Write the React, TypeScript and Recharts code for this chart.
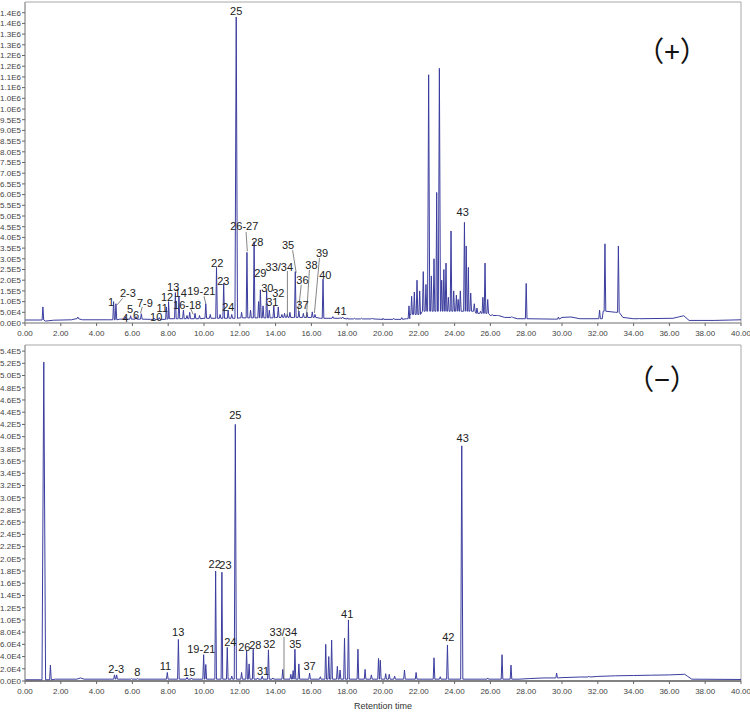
import React from 'react';
import { LineChart, Line, XAxis, YAxis, ReferenceArea, ReferenceDot, ReferenceLine } from 'recharts';

type Pt = [number, number];
type Pk = [number, number, number?];

// ---------- shared axis ----------
const xTicks = [0, 2, 4, 6, 8, 10, 12, 14, 16, 18, 20, 22, 24, 26, 28, 30, 32, 34, 36, 38, 40];

// ---------- (+) mode ----------
const posYTicks = [0, 5e4, 1e5, 1.5e5, 2e5, 2.5e5, 3e5, 3.5e5, 4e5, 4.5e5, 5e5, 5.5e5, 6e5, 6.5e5, 7e5, 7.5e5, 8e5, 8.5e5, 9e5, 9.5e5, 1e6, 1.05e6, 1.1e6, 1.15e6, 1.2e6, 1.25e6, 1.3e6, 1.35e6, 1.4e6, 1.45e6];
const posYLabels = ['0.0E0', '5.0E4', '1.0E5', '1.5E5', '2.0E5', '2.5E5', '3.0E5', '3.5E5', '4.0E5', '4.5E5', '5.0E5', '5.5E5', '6.0E5', '6.5E5', '7.0E5', '7.5E5', '8.0E5', '8.5E5', '9.0E5', '9.5E5', '1.0E6', '1.0E6', '1.1E6', '1.1E6', '1.2E6', '1.2E6', '1.3E6', '1.3E6', '1.4E6', '1.4E6'];

const posBaseline: Pt[] = [
  [0, 1.4e4], [0.9, 1.4e4], [1.15, 0.9e4], [1.6, 1.3e4], [2.6, 1.5e4], [2.85, 2.0e4], [3.2, 1.5e4],
  [4.6, 1.5e4], [5.3, 1.8e4], [7.0, 1.7e4], [8.0, 2.0e4], [10.0, 2.2e4], [12.0, 2.4e4], [14.0, 2.6e4],
  [15.0, 2.6e4], [16.5, 2.2e4], [18.0, 1.9e4], [20.0, 1.7e4], [21.3, 2.0e4], [21.5, 4.0e4], [22.2, 5.5e4],
  [24.8, 5.5e4], [25.2, 4.5e4], [26.0, 3.5e4], [26.8, 2.6e4], [27.5, 2.0e4], [29.6, 1.8e4], [30.0, 2.6e4],
  [30.5, 2.8e4], [31.0, 2.0e4], [32.25, 2.0e4], [32.3, 5.5e4], [33.0, 5.0e4], [33.4, 2.6e4], [34.0, 2.0e4],
  [36.2, 2.2e4], [36.5, 2.8e4], [36.8, 3.4e4], [37.1, 1.2e4], [38.5, 1.2e4], [40, 1.5e4],
];

const posPeaks: Pk[] = [
  [1.0, 7.5e4], [2.95, 2.8e4], [4.95, 1.0e5], [5.08, 9.0e4], [5.6, 3.0e4], [5.9, 3.4e4], [6.2, 3.0e4],
  [6.5, 4.3e4], [7.2, 2.3e4], [7.5, 2.5e4], [7.9, 7.5e4], [8.02, 1.0e5], [8.4, 1.42e5], [8.6, 1.25e5],
  [8.85, 6.0e4], [9.05, 3.5e4], [9.2, 5.0e4], [9.5, 4.5e4], [9.75, 3.5e4], [10.1, 9.0e4], [10.35, 4.0e4],
  [10.7, 2.6e5], [10.9, 4.0e4], [11.1, 1.85e5], [11.35, 6.0e4], [11.55, 4.0e4], [11.8, 1.43e6, 0.07],
  [12.1, 5.0e4], [12.4, 3.3e5], [12.6, 6.0e4], [12.8, 3.8e5], [13.05, 1.0e5], [13.15, 1.55e5], [13.3, 8.0e4],
  [13.5, 1.5e5], [13.65, 6.0e4], [13.9, 8.0e4], [14.15, 7.5e4], [14.35, 4.0e4], [14.5, 4.5e4], [14.65, 4.0e4],
  [14.8, 5.0e4], [15.1, 2.4e5], [15.3, 5.6e4], [15.55, 4.5e4], [15.75, 5.0e4], [16.05, 5.2e4], [16.2, 4.0e4],
  [16.65, 2.05e5], [17.2, 3.0e4], [17.6, 2.5e4], [17.75, 2.8e4], [18.0, 2.4e4], [18.4, 2.2e4], [18.8, 2.2e4],
  [19.4, 2.3e4], [20.0, 2.2e4], [20.6, 2.2e4], [21.05, 2.5e4],
  [21.45, 8.0e4], [21.6, 1.25e5], [21.75, 1.45e5], [21.9, 2.0e5], [22.05, 1.5e5], [22.25, 2.4e5], [22.4, 1.8e5],
  [22.55, 1.16e6, 0.06], [22.7, 2.2e5], [22.85, 3.0e5], [23.0, 6.1e5], [23.15, 1.19e6, 0.06], [23.28, 2.0e5],
  [23.4, 2.5e5], [23.52, 2.8e5], [23.65, 1.2e5], [23.8, 4.3e5], [23.95, 1.5e5], [24.1, 1.3e5], [24.2, 1.1e5],
  [24.32, 1.5e5], [24.55, 4.7e5], [24.65, 3.6e5], [24.77, 2.6e5], [24.9, 1.4e5], [25.1, 9.0e4], [25.25, 7.0e4],
  [25.45, 5.5e4], [25.58, 1.2e5], [25.7, 2.8e5], [25.85, 1.1e5], [26.1, 4.0e4], [26.4, 3.5e4], [27.2, 3.0e4],
  [28.0, 1.85e5], [29.8, 2.8e4], [32.1, 6.0e4], [32.4, 3.7e5], [33.15, 3.6e5], [34.3, 2.2e4],
];

const posLabels: [string, number, number][] = [
  ['1', 4.81, 9.8e4], ['2-3', 5.75, 1.4e5], ['4', 5.6, 2.3e4], ['5', 5.87, 6.5e4], ['6', 6.2, 3.7e4],
  ['7-9', 6.7, 9.3e4], ['10', 7.33, 2.8e4], ['11', 7.66, 7.0e4], ['12', 7.94, 1.21e5], ['13', 8.28, 1.66e5],
  ['14', 8.7, 1.4e5], ['16-18', 9.06, 8.4e4], ['19-21', 9.85, 1.5e5], ['22', 10.74, 2.8e5], ['23', 11.08, 1.96e5],
  ['24', 11.36, 7.5e4], ['25', 11.8, 1.458e6], ['26-27', 12.25, 4.53e5], ['28', 12.98, 3.8e5], ['29', 13.15, 2.34e5],
  ['30', 13.54, 1.64e5], ['31', 13.82, 9.8e4], ['32', 14.15, 1.4e5], ['33/34', 14.21, 2.62e5], ['35', 14.7, 3.65e5],
  ['36', 15.5, 2.0e5], ['37', 15.5, 8.4e4], ['38', 16.0, 2.71e5], ['39', 16.6, 3.27e5], ['40', 16.78, 2.24e5],
  ['41', 17.62, 5.6e4], ['43', 24.45, 5.19e5],
];

const posLeaders: [number, number, number, number][] = [
  [5.45, 1.15e5, 5.15, 8.5e4], [6.55, 7.5e4, 6.45, 4.5e4], [9.25, 6.8e4, 9.4, 4.0e4], [10.0, 1.25e5, 10.1, 9.0e4],
  [12.35, 4.25e5, 12.42, 3.35e5], [14.66, 2.43e5, 14.66, 3.3e4], [14.95, 3.4e5, 15.15, 2.35e5],
  [15.43, 1.78e5, 15.27, 5.1e4], [15.89, 2.48e5, 15.72, 2.3e4], [16.45, 3.04e5, 16.17, 4.7e4],
];

// ---------- (−) mode ----------
const negYTicks = [0, 2e4, 4e4, 6e4, 8e4, 1e5, 1.2e5, 1.4e5, 1.6e5, 1.8e5, 2e5, 2.2e5, 2.4e5, 2.6e5, 2.8e5, 3e5, 3.2e5, 3.4e5, 3.6e5, 3.8e5, 4e5, 4.2e5, 4.4e5, 4.6e5, 4.8e5, 5e5, 5.2e5, 5.4e5];
const negYLabels = ['0.0E0', '2.0E4', '4.0E4', '6.0E4', '8.0E4', '1.0E5', '1.2E5', '1.4E5', '1.6E5', '1.8E5', '2.0E5', '2.2E5', '2.4E5', '2.6E5', '2.8E5', '3.0E5', '3.2E5', '3.4E5', '3.6E5', '3.8E5', '4.0E5', '4.2E5', '4.4E5', '4.6E5', '4.8E5', '5.0E5', '5.2E5', '5.4E5'];

const negBaseline: Pt[] = [
  [0, 2e3], [0.85, 2e3], [1.7, 3e3], [2.9, 3e3], [3.1, 5e3], [3.3, 3e3], [27.6, 3e3], [28.2, 4e3],
  [29.0, 5e3], [30.0, 5.5e3], [31.0, 6.5e3], [32.0, 7.5e3], [33.0, 8.5e3], [34.0, 9e3], [35.0, 9.5e3], [36.0, 1.0e4],
  [36.85, 1.1e4], [37.0, 8e3], [37.25, 3e3], [40, 2.5e3],
];

const negPeaks: Pk[] = [
  [1.05, 5.22e5, 0.1], [1.42, 2.6e4], [5.0, 1.0e4], [5.12, 1.0e4], [5.95, 4e3], [6.3, 4e3], [7.95, 1.4e4],
  [8.57, 6.8e4], [9.05, 6e3], [9.3, 5e3], [9.98, 4.3e4], [10.1, 2.7e4], [10.65, 1.8e5], [11.0, 1.78e5],
  [11.3, 5.5e4], [11.55, 8e3], [11.75, 4.2e5, 0.06], [12.1, 1.4e4], [12.38, 5.0e4], [12.52, 2.8e4], [12.75, 5.2e4],
  [13.0, 5e3], [13.25, 8e3], [13.6, 5.1e4], [13.85, 5e3], [14.4, 1.9e4], [14.85, 1.1e4], [14.98, 1.7e4],
  [15.08, 5.2e4], [15.3, 2.8e4], [15.9, 1.3e4], [16.5, 7e3], [16.8, 6.0e4], [16.97, 4.0e4], [17.13, 6.7e4],
  [17.45, 2.4e4], [17.6, 1.8e4], [17.85, 7.0e4], [18.07, 1.0e5], [18.6, 5.2e4], [19.0, 1.9e4], [19.35, 1.0e4],
  [19.75, 3.7e4], [19.85, 3.4e4], [20.15, 1.2e4], [20.35, 1.1e4], [20.65, 8e3], [21.2, 1.8e4], [21.85, 1.4e4],
  [22.85, 3.8e4], [23.2, 7e3], [23.6, 5.9e4], [24.4, 3.85e5, 0.06], [25.85, 5e3], [26.65, 4.3e4], [27.15, 2.6e4],
  [29.7, 1.3e4], [31.5, 8e3],
];

const negLabels: [string, number, number][] = [
  ['2-3', 5.1, 2.0e4], ['8', 6.27, 1.4e4], ['11', 7.85, 2.4e4], ['13', 8.56, 8.0e4], ['15', 9.17, 1.5e4],
  ['19-21', 9.85, 5.2e4], ['22', 10.6, 1.92e5], ['23', 11.2, 1.9e5], ['24', 11.47, 6.4e4], ['25', 11.75, 4.35e5],
  ['26', 12.25, 5.5e4], ['28', 12.87, 5.9e4], ['31', 13.3, 1.6e4], ['32', 13.65, 6.1e4], ['33/34', 14.43, 8.0e4],
  ['35', 15.1, 6.0e4], ['37', 15.9, 2.4e4], ['41', 18.0, 1.1e5], ['42', 23.65, 7.2e4], ['43', 24.45, 3.98e5],
];

const negLeaders: [number, number, number, number][] = [
  [14.47, 7.2e4, 14.47, 3e3],
];

// ---------- helpers ----------
function baseAt(baseline: Pt[], t: number) {
  let lvl = baseline[0][1];
  for (const [bt, bv] of baseline) {
    if (bt <= t) lvl = bv;
    else break;
  }
  return lvl;
}

function buildTrace(baseline: Pt[], peaks: Pk[]) {
  const pts = baseline.map(([t, v]) => ({ t, v }));
  for (const [rt, h, hw] of peaks) {
    const w = hw ?? 0.045;
    const b = baseAt(baseline, rt);
    pts.push({ t: rt - w, v: b }, { t: rt, v: h }, { t: rt + w, v: b });
  }
  return pts.sort((a, b) => a.t - b.t);
}

const posData = buildTrace(posBaseline, posPeaks);
const negData = buildTrace(negBaseline, negPeaks);

const LINE = '#3b3d9e';
const FONT = '"Liberation Sans", Arial, sans-serif';
const tickStyle = { fontSize: 8, fill: '#444', fontFamily: FONT };

interface PanelProps {
  data: { t: number; v: number }[];
  yTicks: number[];
  yLabels: string[];
  yMax: number;
  labels: [string, number, number][];
  leaders: [number, number, number, number][];
  height: number;
  xLineColor: string;
  xAxisHeight: number;
  xTitle?: string;
}

function Panel({ data, yTicks, yLabels, yMax, labels, leaders, height, xLineColor, xAxisHeight, xTitle }: PanelProps) {
  return (
    <LineChart width={750} height={height} data={data} margin={{ top: 2, right: 9, left: 0, bottom: 0 }} style={{ fontFamily: FONT }}>
      <XAxis
        dataKey="t"
        type="number"
        domain={[0, 40]}
        ticks={xTicks}
        interval={0}
        tickFormatter={(v: number) => v.toFixed(2)}
        tick={tickStyle}
        tickSize={3}
        tickMargin={4}
        height={xAxisHeight}
        stroke={xLineColor}
        axisLine={{ stroke: xLineColor }}
        tickLine={{ stroke: '#666' }}
        label={xTitle ? { value: xTitle, position: 'insideBottom', offset: 3, fontSize: 9, fill: '#333', fontFamily: FONT } : undefined}
      />
      <YAxis
        type="number"
        domain={[0, yMax]}
        ticks={yTicks}
        interval={0}
        width={25}
        tick={tickStyle}
        tickSize={3}
        tickMargin={1}
        tickFormatter={(v: number) => yLabels[yTicks.indexOf(v)] ?? ''}
        axisLine={{ stroke: '#999' }}
        tickLine={{ stroke: '#666' }}
      />
      <ReferenceArea x1={0} x2={40} y1={0} y2={yMax} fill="none" stroke="#a8a8a8" strokeWidth={1} />
      <Line type="linear" dataKey="v" stroke={LINE} strokeWidth={1} dot={false} isAnimationActive={false} />
      {leaders.map(([x1, y1, x2, y2], i) => (
        <ReferenceLine key={'l' + i} segment={[{ x: x1, y: y1 }, { x: x2, y: y2 }]} stroke="#666" strokeWidth={0.8} />
      ))}
      {labels.map(([txt, x, y], i) => (
        <ReferenceDot
          key={'d' + i}
          x={x}
          y={y}
          r={1}
          fill="none"
          stroke="none"
          label={{ value: txt, position: 'center', fontSize: 11, fill: '#222', fontFamily: FONT }}
        />
      ))}
    </LineChart>
  );
}

export default function App() {
  return (
    <div style={{ position: 'absolute', left: 0, top: 0, width: 750, height: 712, background: '#fff', overflow: 'hidden' }}>
      <div style={{ position: 'absolute', left: 0, top: 0 }}>
        <Panel data={posData} yTicks={posYTicks} yLabels={posYLabels} yMax={1.5e6} labels={posLabels} leaders={posLeaders}
          height={345} xLineColor="#999" xAxisHeight={22} />
      </div>
      <div style={{ position: 'absolute', left: 0, top: 343 }}>
        <Panel data={negData} yTicks={negYTicks} yLabels={negYLabels} yMax={5.5e5} labels={negLabels} leaders={negLeaders}
          height={369} xLineColor="#333" xAxisHeight={31} xTitle="Retention time" />
      </div>
      <div style={{ position: 'absolute', left: 632, top: 31, width: 80, textAlign: 'center', fontFamily: '"Noto Sans CJK SC", sans-serif', fontSize: 28, lineHeight: '38px', color: '#111' }}>（+）</div>
      <div style={{ position: 'absolute', left: 622, top: 359, width: 80, textAlign: 'center', fontFamily: '"Noto Sans CJK SC", sans-serif', fontSize: 28, lineHeight: '38px', color: '#111' }}>（−）</div>
    </div>
  );
}
